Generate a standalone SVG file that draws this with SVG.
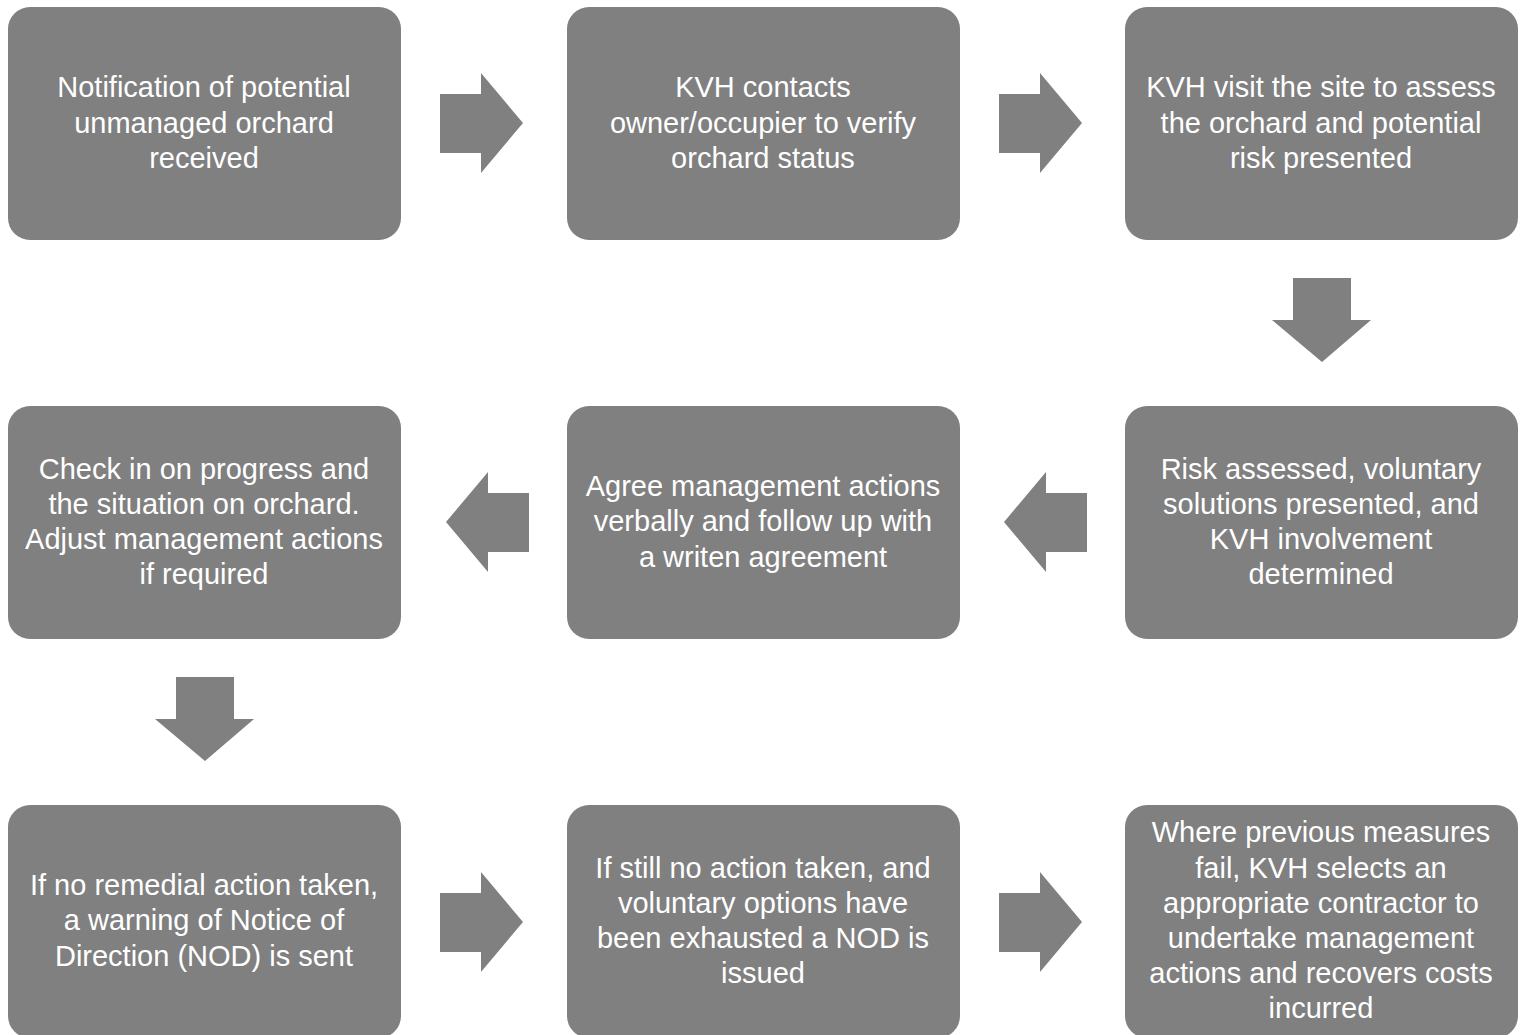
<svg xmlns="http://www.w3.org/2000/svg" width="1522" height="1035" viewBox="0 0 1522 1035">
<style>
.box{fill:#808080;}
.arr{fill:#808080;}
text{font-family:"Liberation Sans",Arial,sans-serif;font-size:29px;fill:#ffffff;text-anchor:middle;}
</style>
<defs>
<polygon id="ra" points="0,21 41,21 41,0 83,50 41,100 41,80 0,80"/>
<polygon id="la" points="83,21 42,21 42,0 0,50 42,100 42,80 83,80"/>
<polygon id="da" points="21,0 79,0 79,42 99,42 50,84 0,42 21,42"/>
</defs>
<rect width="1522" height="1035" fill="#ffffff"/>
<g id="connectors">
<use href="#ra" class="arr" x="440" y="73"/>
<use href="#ra" class="arr" x="999" y="73"/>
<use href="#da" class="arr" x="1272" y="278"/>
<use href="#la" class="arr" x="1004" y="472"/>
<use href="#la" class="arr" x="446" y="472"/>
<use href="#da" class="arr" x="155" y="677"/>
<use href="#ra" class="arr" x="440" y="872"/>
<use href="#ra" class="arr" x="999" y="872"/>
</g>
<g id="n1"><rect class="box" x="8" y="7" width="393" height="233" rx="22"/>
<text x="204" y="97">Notification of potential</text><text x="204" y="133">unmanaged orchard</text><text x="204" y="168">received</text></g>
<g id="n2"><rect class="box" x="567" y="7" width="393" height="233" rx="22"/>
<text x="763" y="97">KVH contacts</text><text x="763" y="133">owner/occupier to verify</text><text x="763" y="168">orchard status</text></g>
<g id="n3"><rect class="box" x="1125" y="7" width="393" height="233" rx="22"/>
<text x="1321" y="97">KVH visit the site to assess</text><text x="1321" y="133">the orchard and potential</text><text x="1321" y="168">risk presented</text></g>
<g id="n6"><rect class="box" x="1125" y="406" width="393" height="233" rx="22"/>
<text x="1321" y="479">Risk assessed, voluntary</text><text x="1321" y="514">solutions presented, and</text><text x="1321" y="549">KVH involvement</text><text x="1321" y="584">determined</text></g>
<g id="n5"><rect class="box" x="567" y="406" width="393" height="233" rx="22"/>
<text x="763" y="496">Agree management actions</text><text x="763" y="531">verbally and follow up with</text><text x="763" y="567">a writen agreement</text></g>
<g id="n4"><rect class="box" x="8" y="406" width="393" height="233" rx="22"/>
<text x="204" y="479">Check in on progress and</text><text x="204" y="514">the situation on orchard.</text><text x="204" y="549">Adjust management actions</text><text x="204" y="584">if required</text></g>
<g id="n7"><rect class="box" x="8" y="805" width="393" height="233" rx="22"/>
<text x="204" y="895">If no remedial action taken,</text><text x="204" y="930">a warning of Notice of</text><text x="204" y="966">Direction (NOD) is sent</text></g>
<g id="n8"><rect class="box" x="567" y="805" width="393" height="233" rx="22"/>
<text x="763" y="878">If still no action taken, and</text><text x="763" y="913">voluntary options have</text><text x="763" y="948">been exhausted a NOD is</text><text x="763" y="983">issued</text></g>
<g id="n9"><rect class="box" x="1125" y="805" width="393" height="233" rx="22"/>
<text x="1321" y="842">Where previous measures</text><text x="1321" y="878">fail, KVH selects an</text><text x="1321" y="913">appropriate contractor to</text><text x="1321" y="948">undertake management</text><text x="1321" y="983">actions and recovers costs</text><text x="1321" y="1018">incurred</text></g>
</svg>
